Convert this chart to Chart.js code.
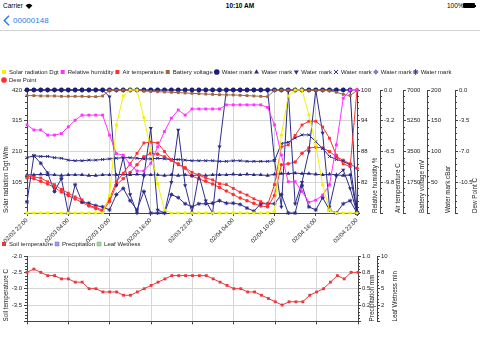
<!DOCTYPE html>
<html><head><meta charset="utf-8">
<script src="https://cdn.jsdelivr.net/npm/chart.js@4"></script>
<style>
html,body{margin:0;padding:0;background:#fff;width:480px;height:360px;overflow:hidden;font-family:"Liberation Sans",Arial,sans-serif;}
.abs{position:absolute;}
</style></head><body>
<div class="abs" style="left:3px;top:2px;font-size:6.5px;color:#000;">Carrier</div>
<svg class="abs" style="left:25px;top:2.5px" width="8" height="6" viewBox="0 0 8 6"><path d="M4 6 L0.6 2.4 A5 5 0 0 1 7.4 2.4 Z" fill="#000"/></svg>
<div class="abs" style="left:0;top:2px;width:480px;text-align:center;font-size:6.5px;font-weight:600;color:#000;">10:10 AM</div>
<div class="abs" style="left:447px;top:2px;font-size:6.5px;color:#000;">100%</div>
<div class="abs" style="left:463px;top:3px;width:12px;height:5px;background:#000;border-radius:1px;"></div>
<div class="abs" style="left:475px;top:4.5px;width:1px;height:2px;background:#000;"></div>
<svg class="abs" style="left:3px;top:15px" width="7" height="11" viewBox="0 0 7 11"><polyline points="6,0.8 1.3,5.5 6,10.2" fill="none" stroke="#2b7de9" stroke-width="1.5"/></svg>
<div class="abs" style="left:13px;top:15.5px;font-size:8px;color:#2b7de9;">00000148</div>
<div class="abs" style="left:0;top:30px;width:480px;height:1px;background:#d2d2d2;"></div>

<canvas id="c1" class="abs" style="left:0;top:67px" width="480" height="177"></canvas>
<canvas id="c2" class="abs" style="left:0;top:239px" width="480" height="88"></canvas>

<script>
// ---------- data ----------
const timeLabels = ['02/02 22:00','02/03 04:00','02/03 10:00','02/03 16:00','02/03 22:00','02/04 04:00','02/04 10:00','02/04 16:00','02/04 22:00'];

const solarRadiation = [0,0,0,0,0,0,0,0,0,0,0,0,60,300,400,420,420,325,215,100,10,0,0,0,0,0,0,0,0,0,0,0,0,0,0,0,5,266,400,420,420,335,232,96,10,0,0,0,0];
const relativeHumidity = [93.2,92.2,92.2,91.2,91.2,91.5,92.8,94.1,95.1,95.1,95.1,95.1,91.2,87.6,87.3,85.4,84.2,84.2,85.7,88.9,91.9,94.5,96.1,95.1,96.3,96.3,96.3,96.3,96.3,97.1,97.1,97.1,97.1,97.1,97.1,96.6,93.2,87.3,82.1,82.1,80.2,78.1,78.5,79.5,81.5,89.3,98.4,100,100];
const airTemperature = [-9.1,-9.2,-9.3,-9.7,-10.0,-10.5,-10.9,-11.3,-11.6,-12.2,-12.4,-12.7,-11.5,-9.7,-8.8,-7.8,-6.7,-5.6,-5.5,-5.6,-6.5,-7.4,-7.9,-8.2,-8.7,-9.0,-9.3,-9.5,-9.9,-10.0,-10.4,-10.8,-11.1,-11.5,-11.8,-12.1,-10.0,-6.0,-5.8,-4.8,-3.7,-3.3,-3.3,-3.9,-5.1,-6.9,-7.8,-8.1,0.0];
const batteryVoltage = [6680,6680,6660,6660,6660,6640,6640,6640,6640,6620,6620,6660,6980,6990,6990,6990,6980,6940,6920,6900,6890,6870,6850,6830,6810,6790,6770,6750,6730,6720,6720,6700,6680,6660,6640,6620,6980,6990,6990,6990,6990,6980,6980,6980,6960,6870,6750,6680,6980];
const waterMark1 = [200,200,200,200,200,200,200,200,200,200,200,200,200,200,200,200,200,200,200,200,200,200,200,200,200,200,200,200,200,200,200,200,200,200,200,200,200,200,200,200,200,200,200,200,200,200,200,200,0];
const waterMark2 = [62,62,63,62,62,61,62,62,62,61,61,62,62,62,63,62,63,62,62,62,61,62,61,62,61,62,61,62,62,62,63,62,63,62,62,61,63,64,64,65,64,64,63,62,63,62,61,62,0];
const waterMark3 = [200,200,200,200,200,200,200,200,200,200,200,200,189,45,90,30,0,60,138,5,0,50,135,45,0,62,20,0,108,200,200,200,200,200,200,200,86,10,200,15,50,100,200,130,10,60,70,40,0];
const waterMark4 = [90,93,92,92,90,89,86,85,85,86,86,87,88,89,90,90,89,88,88,89,88,87,87,86,85,85,85,85,84,84,85,85,84,84,84,84,85,113,115,122,127,127,116,105,92,87,84,78,0];
const waterMark5 = [200,200,200,200,200,200,200,200,200,200,200,200,200,200,200,200,200,200,200,200,200,200,200,200,200,200,200,200,200,200,200,200,200,200,200,200,200,200,200,200,200,200,200,200,200,200,200,200,200];
const waterMark6 = [18,93,81,65,35,56,0,46,18,16,12,10,5,30,40,20,5,35,0,0,0,30,25,15,10,15,15,16,20,16,16,14,8,3,15,15,15,30,0,0,45,10,5,25,5,0,15,20,0];
const dewPoint = [-10.0,-10.1,-10.4,-10.7,-11.1,-11.6,-12.0,-12.4,-12.8,-13.2,-13.5,-13.8,-12.7,-10.8,-10.1,-9.4,-8.5,-7.6,-7.2,-7.3,-7.6,-8.0,-8.4,-8.9,-9.8,-10.1,-10.4,-10.7,-11.1,-11.5,-11.9,-12.3,-12.6,-12.9,-13.2,-13.3,-12.0,-8.5,-8.4,-8.2,-7.2,-6.6,-6.5,-6.6,-7.0,-7.6,-8.0,-8.4,-8.9];

const soilTemperature = [-2.5,-2.4,-2.5,-2.6,-2.6,-2.7,-2.7,-2.8,-2.8,-3.0,-3.0,-3.1,-3.1,-3.1,-3.2,-3.2,-3.1,-3.0,-2.9,-2.8,-2.7,-2.6,-2.6,-2.6,-2.6,-2.6,-2.6,-2.7,-2.8,-2.9,-3.0,-3.0,-3.1,-3.1,-3.2,-3.3,-3.4,-3.5,-3.4,-3.4,-3.4,-3.2,-3.1,-3.0,-2.8,-2.6,-2.7,-2.5,-2.5];
const precipitation = [];
const leafWetness = [];

// tick labels, bottom to top
const solarTicks = ['','105','210','315','420'];
const rhTicks = ['','82','88','94','100'];
const airTempTicks = ['','-9.8','-6.5','-3.2','0.0'];
const batteryTicks = ['','1750','3500','5250','7000'];
const waterMarkTicks = ['','50','100','150','200'];
const dewPointTicks = ['','-10.5','-7.0','-3.5','0.0'];
const soilTicks = ['','-3.5','-3.0','-2.5','-2.0'];
const precipTicks = ['','0.2','0.5','0.8','1.0'];
const leafTicks = ['','2','5','8','10'];

// ---------- helpers ----------
const FONT = '"Liberation Sans", Arial, sans-serif';
Chart.defaults.font.family = FONT;
Chart.defaults.font.size = 6;
Chart.defaults.color = '#222';
const pts = arr => arr.map((v,i)=>({x:i,y:v}));
const AX = '#444', GRID = '#d6d6d6';

function ds(label, data, axis, color, style, r, extra) {
  return Object.assign({
    label, data: pts(data), yAxisID: axis, borderColor: color, backgroundColor: color,
    pointBackgroundColor: color, pointBorderColor: color, pointStyle: style,
    pointRadius: r, pointBorderWidth: 0, borderWidth: 1, clip: false, tension: 0
  }, extra || {});
}
function yScale(pos, min, max, step, labels, width, grid) {
  return {
    position: pos, min, max,
    ticks: { stepSize: step, autoSkip: false, padding: pos==='left'?2:1, color:'#222', font:{size:6},
      callback: (v,i)=>labels[i] },
    grid: grid ? { color: GRID, tickLength: 3, tickColor: AX } :
                 { drawOnChartArea: false, tickLength: 3, tickColor: AX },
    border: { color: AX },
    afterFit: s => { s.width = width; }
  };
}
function legendShrink(d) {
  return { id:'legendShrink', beforeInit(chart){ const fit = chart.legend.fit;
    chart.legend.fit = function(){ fit.call(this); this.height += d; }; } };
}
function decor(titles, minors) {
  return { id:'decor', afterDraw(chart){
    const ctx = chart.ctx, area = chart.chartArea;
    ctx.save();
    ctx.strokeStyle = AX; ctx.lineWidth = 1;
    for (const id in minors) {
      const s = chart.scales[id], n = minors[id], t = s.ticks;
      const left = s.options.position === 'left';
      const x0 = left ? s.right : s.left;
      for (let k=0;k<t.length-1;k++) for (let m=1;m<n;m++) {
        const v = t[k].value + (t[k+1].value - t[k].value)*m/n;
        const y = Math.round(s.getPixelForValue(v)) + 0.5;
        ctx.beginPath(); ctx.moveTo(x0, y); ctx.lineTo(x0 + (left?-2:2), y); ctx.stroke();
      }
    }
    ctx.fillStyle = '#222'; ctx.font = '6.3px ' + FONT; ctx.textAlign = 'left'; ctx.textBaseline = 'middle';
    for (const id in titles) {
      const s = chart.scales[id], t = titles[id];
      const x = (t.x !== undefined) ? t.x : s.left + t.dx;
      ctx.save(); ctx.translate(x, area.bottom); ctx.rotate(-Math.PI/2); ctx.fillText(t.text, 0, 0); ctx.restore();
    }
    ctx.restore();
  }};
}

const NAVY = '#1e1e78';
// ---------- top chart ----------
new Chart(document.getElementById('c1'), {
  type: 'line',
  data: { datasets: [
    ds('Solar radiation Dgt', solarRadiation, 'y', '#f2f200', 'rect', 2),
    ds('Relative humidity', relativeHumidity, 'yRH', '#ff33ff', 'rect', 2),
    ds('Air temperature', airTemperature, 'yAT', '#ff3030', 'rect', 2),
    ds('Battery voltage', batteryVoltage, 'yBV', '#a0653f', 'rect', 2),
    ds('Water mark', waterMark1, 'yWM', NAVY, 'circle', 2.4),
    ds('Water mark', waterMark2, 'yWM', '#2a2a88', 'triangle', 2.4),
    ds('Water mark', waterMark3, 'yWM', '#2c2c8c', 'triangle', 2.4, {pointRotation:180}),
    ds('Water mark', waterMark4, 'yWM', '#24248a', 'crossRot', 2, {pointBorderWidth:1}),
    ds('Water mark', waterMark5, 'yWM', '#7d7dc8', 'rectRot', 2.4),
    ds('Water mark', waterMark6, 'yWM', '#2d2d8e', 'star', 2, {pointBorderWidth:1}),
    ds('Dew Point', dewPoint, 'yDP', '#ff3030', 'circle', 1.8)
  ]},
  options: {
    responsive: false, animation: false, devicePixelRatio: 1,
    layout: { padding: 0 },
    plugins: {
      legend: { position:'top', align:'start',
        labels: { usePointStyle: true, boxWidth: 4, boxHeight: 4, padding: 2, font:{size:6}, color:'#222' } },
      tooltip: { enabled: false }
    },
    scales: {
      x: { type:'linear', min:0, max:48,
        ticks: { stepSize: 6, autoSkip:false, minRotation:45, maxRotation:45, padding:1, color:'#222', font:{size:6},
          callback: v => timeLabels[Math.round(v/6)] },
        grid: { color: GRID, tickLength: 3, tickColor: AX }, border: { color: AX },
        afterFit: s => { s.height = 31; } },
      y: yScale('left', 0, 420, 105, solarTicks, 27, true),
      yRH: yScale('right', 76, 100, 6, rhTicks, 23, false),
      yAT: yScale('right', -13, 0, 3.25, airTempTicks, 23, false),
      yBV: yScale('right', 0, 7000, 1750, batteryTicks, 24, false),
      yWM: yScale('right', 0, 200, 50, waterMarkTicks, 28, false),
      yDP: yScale('right', -14, 0, 3.5, dewPointTicks, 25, false)
    }
  },
  plugins: [legendShrink(-3), decor({
    y:{text:'Solar radiation Dgt W/m', x:6},
    yRH:{text:'Relative humidity %', dx:18},
    yAT:{text:'Air temperature C', dx:18},
    yBV:{text:'Battery voltage mV', dx:19},
    yWM:{text:'Water mark cBar', dx:21},
    yDP:{text:'Dew Point C', dx:20}
  }, {y:5, yRH:5, yAT:5, yBV:5, yWM:5, yDP:5})]
});

// ---------- bottom chart ----------
new Chart(document.getElementById('c2'), {
  type: 'line',
  data: { datasets: [
    ds('Soil temperature', soilTemperature, 'y', '#e8383d', 'rect', 2),
    ds('Precipitation', precipitation, 'yP', '#9c9ce8', 'rect', 2, {pointBorderColor:'#6c6cd0', pointBorderWidth:0.5}),
    ds('Leaf Wetness', leafWetness, 'yL', '#a4d6a4', 'rect', 2, {pointBorderColor:'#60a860', pointBorderWidth:0.5})
  ]},
  options: {
    responsive: false, animation: false, devicePixelRatio: 1,
    layout: { padding: { right: 80 } },
    plugins: {
      legend: { position:'top', align:'start',
        labels: { usePointStyle: true, boxWidth: 4, boxHeight: 4, padding: 2, font:{size:6}, color:'#222' } },
      tooltip: { enabled: false }
    },
    scales: {
      x: { type:'linear', min:0, max:48,
        ticks: { stepSize: 6, display:false },
        grid: { color: GRID, tickLength: 3, tickColor: AX }, border: { color: AX },
        afterFit: s => { s.height = 5; } },
      y: yScale('left', -4, -2, 0.5, soilTicks, 27, true),
      yP: yScale('right', 0, 1, 0.25, precipTicks, 19, false),
      yL: yScale('right', 0, 10, 2.5, leafTicks, 23, false)
    }
  },
  plugins: [legendShrink(-1), decor({
    y:{text:'Soil temperature C', x:6},
    yP:{text:'Precipitation mm', dx:14},
    yL:{text:'Leaf Wetness min', dx:18}
  }, {y:5, yP:5, yL:5})]
});
</script>
</body></html>
